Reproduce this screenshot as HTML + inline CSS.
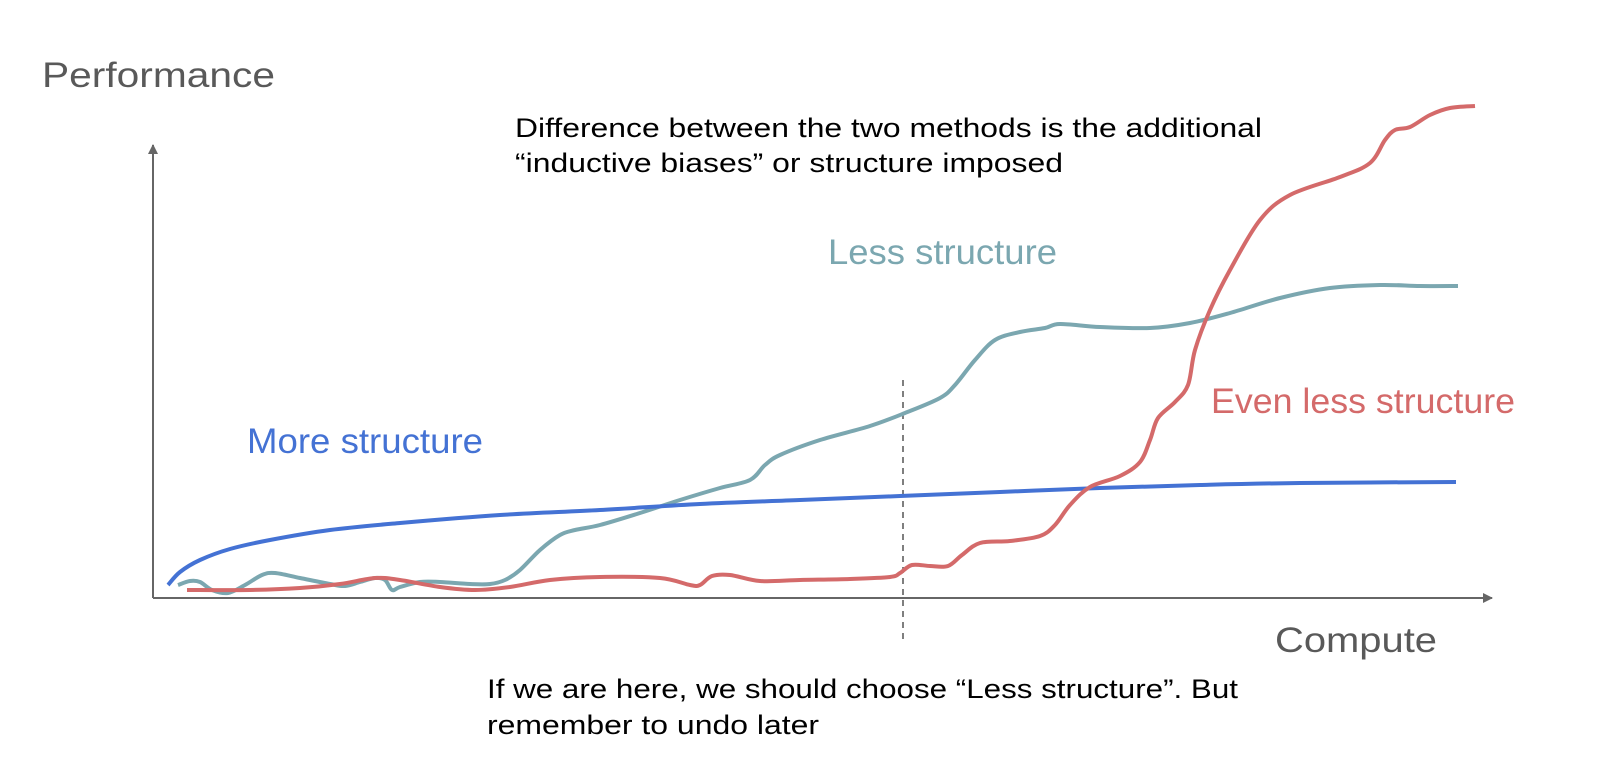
<!DOCTYPE html>
<html><head><meta charset="utf-8"><style>
body{margin:0;background:#fff}
svg{display:block}
text{font-family:"Liberation Sans",sans-serif}
</style></head><body>
<svg id="c" width="1598" height="760">
<defs><marker id="ar" markerWidth="10" markerHeight="10" refX="9" refY="5" orient="auto" markerUnits="userSpaceOnUse"><path d="M0,0 L10,5 L0,10 z" fill="#666"/></marker></defs>
<line x1="153" y1="598" x2="153" y2="145" stroke="#666" stroke-width="2" marker-end="url(#ar)"/>
<line x1="153" y1="598" x2="1492" y2="598" stroke="#666" stroke-width="2" marker-end="url(#ar)"/>
<line x1="903" y1="380" x2="903" y2="640" stroke="#555" stroke-width="1.5" stroke-dasharray="6,5"/>
<text x="42" y="87" font-size="35" fill="#595959" textLength="233" lengthAdjust="spacingAndGlyphs">Performance</text>
<text x="1275" y="652" font-size="35" fill="#595959" textLength="162" lengthAdjust="spacingAndGlyphs">Compute</text>
<text font-size="27" fill="#000"><tspan x="515" y="137" textLength="747" lengthAdjust="spacingAndGlyphs">Difference between the two methods is the additional</tspan><tspan x="515" y="172" textLength="548" lengthAdjust="spacingAndGlyphs">“inductive biases” or structure imposed</tspan></text>
<text font-size="27" fill="#000"><tspan x="487" y="698" textLength="751" lengthAdjust="spacingAndGlyphs">If we are here, we should choose “Less structure”. But</tspan><tspan x="487" y="734" textLength="332" lengthAdjust="spacingAndGlyphs">remember to undo later</tspan></text>
<text x="828" y="264" font-size="35" fill="#7BA7B0" textLength="229" lengthAdjust="spacingAndGlyphs">Less structure</text>
<text x="1211" y="413" font-size="35" fill="#D46A6A" textLength="304" lengthAdjust="spacingAndGlyphs">Even less structure</text>
<text x="247" y="453" font-size="35" fill="#4472D4" textLength="236" lengthAdjust="spacingAndGlyphs">More structure</text>
<g id="series"></g>
</svg>
<script>
// data coords: x = compute units, y = performance units (origin at axis corner)
const blueX=[15,27,47,77,117,177,247,347,447,547,647,747,847,947,1047,1147,1303];
const blueY=[13,26,38,49,58,68,75,83,88,94,98,102,106,110,113,115,116];
const tealX=[25,37,47,59,75,92,109,122,147,177,192,207,222,232,239,247,267,287,317,337,352,367,387,407,422,447,487,527,567,597,612,627,667,717,752,787,802,822,842,867,892,907,947,997,1037,1077,1127,1177,1227,1267,1305];
const tealY=[13,17,16,8,5,13,23,25,20,14,12,16,20,18,8,11,16,16,14,14,18,28,48,63,68,73,85,98,110,118,133,143,158,172,185,200,213,238,258,266,270,274,271,270,275,285,300,310,313,312,312];
const redX=[34,97,147,187,222,247,287,322,357,397,447,507,537,547,559,577,607,647,697,737,747,759,777,795,809,827,857,887,902,917,937,967,987,997,1005,1022,1035,1042,1057,1077,1107,1137,1187,1217,1232,1242,1257,1277,1297,1322];
const redY=[8,8,10,14,20,18,11,8,11,18,21,20,13,13,22,23,17,18,19,21,25,33,32,32,43,55,57,62,73,93,111,122,136,158,180,196,213,248,288,328,378,403,421,435,458,468,471,483,490,492];
const X=v=>153+v, Y=v=>598-v;
function path(xs,ys){
  const p=xs.map((x,i)=>[X(x),Y(ys[i])]);
  let d=`M${p[0][0]},${p[0][1]}`;
  for(let i=0;i<p.length-1;i++){
    const p0=p[i-1]||p[i],p1=p[i],p2=p[i+1],p3=p[i+2]||p2;
    const c1=[p1[0]+(p2[0]-p0[0])/6,p1[1]+(p2[1]-p0[1])/6];
    const c2=[p2[0]-(p3[0]-p1[0])/6,p2[1]-(p3[1]-p1[1])/6];
    d+=` C${c1[0]},${c1[1]} ${c2[0]},${c2[1]} ${p2[0]},${p2[1]}`;
  }
  return d;
}
const g=document.getElementById('series');
function add(xs,ys,color,name){
  const el=document.createElementNS('http://www.w3.org/2000/svg','path');
  el.setAttribute('d',path(xs,ys));
  el.setAttribute('fill','none');
  el.setAttribute('stroke',color);
  el.setAttribute('stroke-width','4');
  el.setAttribute('stroke-linejoin','round');
  
  
  g.appendChild(el);
}
add(tealX,tealY,'#7BA7B0','less-structure-line');
add(blueX,blueY,'#4472D4','more-structure-line');
add(redX,redY,'#D46A6A','even-less-structure-line');
</script>
</body></html>
